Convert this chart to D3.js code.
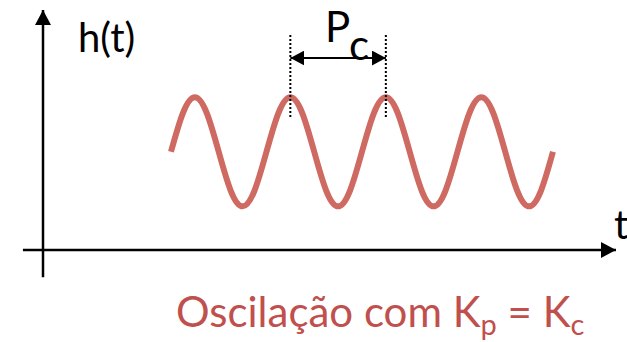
<!DOCTYPE html>
<html>
<head>
<meta charset="utf-8">
<script src="https://cdn.jsdelivr.net/npm/d3@7"></script>
<style>
  html, body { margin: 0; padding: 0; background: #fff; }
  svg { display: block; }
  text { font-family: Lato, "Open Sans", sans-serif; }
</style>
</head>
<body>
<svg id="chart" width="627" height="342"></svg>
<script>
// Sustained oscillation h(t) at the critical gain: samples every 1/8 period
const timeValues = [1.34, 1.465, 1.59, 1.715, 1.84, 1.965, 2.09, 2.215, 2.34,
                    2.465, 2.59, 2.715, 2.84, 2.965, 3.09, 3.215, 3.34,
                    3.465, 3.59, 3.715, 3.84, 3.965, 4.09, 4.215, 4.34,
                    4.465, 4.59, 4.715, 4.84, 4.965, 5.09, 5.215, 5.34];
const heightValues = [1.8, 2.51, 2.8, 2.51, 1.8, 1.09, 0.8, 1.09, 1.8,
                      2.51, 2.8, 2.51, 1.8, 1.09, 0.8, 1.09, 1.8,
                      2.51, 2.8, 2.51, 1.8, 1.09, 0.8, 1.09, 1.8,
                      2.51, 2.8, 2.51, 1.8, 1.09, 0.8, 1.09, 1.8];
// Two consecutive peaks spanning the critical period P_c
const periodPeaks = [2.59, 3.59];
const periodLabel = "P";
const periodSub = "c";
const yLabel = "h(t)";
const xLabel = "t";
const captionMain = "Oscilação com K";
const captionSub1 = "p";
const captionMid = " = K";
const captionSub2 = "c";

const svg = d3.select("#chart");
const x = d3.scaleLinear().domain([0, 6]).range([43, 616]);
const y = d3.scaleLinear().domain([0, 4.4]).range([250, 10]);

const waveColor = "#cf6a62";
const textRed = "#c0504d";

const defs = svg.append("defs");
function arrowMarker(id, w, h) {
  defs.append("marker")
    .attr("id", id)
    .attr("viewBox", `0 0 ${w} ${h}`)
    .attr("refX", w).attr("refY", h / 2)
    .attr("markerWidth", w).attr("markerHeight", h)
    .attr("markerUnits", "userSpaceOnUse")
    .attr("orient", "auto-start-reverse")
    .append("path")
    .attr("d", `M0,0L${w},${h / 2}L0,${h}Z`)
    .attr("fill", "#000");
}
arrowMarker("axisArrow", 15, 16);
arrowMarker("spanArrow", 14, 15);

// Axes
svg.append("line")
  .attr("x1", x(0)).attr("x2", x(0))
  .attr("y1", y(-0.5)).attr("y2", y(4.4))
  .attr("stroke", "#000").attr("stroke-width", 2.5)
  .attr("marker-end", "url(#axisArrow)");
svg.append("line")
  .attr("x1", x(-0.21)).attr("x2", x(6))
  .attr("y1", y(0)).attr("y2", y(0))
  .attr("stroke", "#000").attr("stroke-width", 2.5)
  .attr("marker-end", "url(#axisArrow)");

svg.append("text").attr("x", 78).attr("y", 52)
  .attr("font-size", 40).attr("fill", "#000").text(yLabel);
svg.append("text").attr("x", 614).attr("y", 239)
  .attr("font-size", 40).attr("fill", "#000").text(xLabel);

// Oscillation
const pts = timeValues.map((t, i) => [t, heightValues[i]]);
svg.append("path")
  .datum(pts)
  .attr("d", d3.line().x(d => x(d[0])).y(d => y(d[1])).curve(d3.curveNatural))
  .attr("fill", "none")
  .attr("stroke", waveColor)
  .attr("stroke-width", 6);

// Period markers
periodPeaks.forEach(t => {
  svg.append("line")
    .attr("x1", x(t)).attr("x2", x(t))
    .attr("y1", y(3.94)).attr("y2", y(2.42))
    .attr("stroke", "#000").attr("stroke-width", 2)
    .attr("stroke-dasharray", "2,2");
});
svg.append("line")
  .attr("x1", x(periodPeaks[0])).attr("x2", x(periodPeaks[1]))
  .attr("y1", y(3.52)).attr("y2", y(3.52))
  .attr("stroke", "#000").attr("stroke-width", 2)
  .attr("marker-start", "url(#spanArrow)")
  .attr("marker-end", "url(#spanArrow)");

const pLab = svg.append("text").attr("x", 325).attr("y", 42)
  .attr("font-size", 42).attr("fill", "#000");
pLab.append("tspan").text(periodLabel);
pLab.append("tspan").attr("dy", 18).text(periodSub);

// Caption
const cap = svg.append("text").attr("x", 176).attr("y", 327)
  .attr("font-size", 42).attr("fill", textRed);
cap.append("tspan").text(captionMain);
cap.append("tspan").attr("dy", 8).attr("font-size", 29).text(captionSub1);
cap.append("tspan").attr("dy", -8).text(captionMid);
cap.append("tspan").attr("dy", 8).attr("font-size", 29).text(captionSub2);
</script>
</body>
</html>
